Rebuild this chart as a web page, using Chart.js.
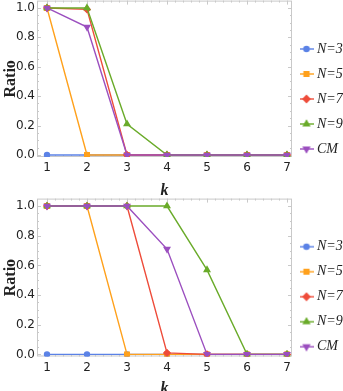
<!DOCTYPE html>
<html>
<head>
<meta charset="utf-8">
<script src="https://cdn.jsdelivr.net/npm/chart.js@4"></script>
<style>
  body { margin: 0; background: #fff; overflow: hidden; }
  .wrap { position: absolute; left: 0; width: 343px; }
</style>
</head>
<body>
<div class="wrap" style="top:-4px;height:200px"><canvas id="top"></canvas></div>
<div class="wrap" style="top:193.5px;height:199.5px"><canvas id="bottom"></canvas></div>
<script>
const kValues = [1, 2, 3, 4, 5, 6, 7];
const seriesNames = ['N=3', 'N=5', 'N=7', 'N=9', 'CM'];
const seriesColors = ['#5b82e6', '#ffa11c', '#ee4c3a', '#6aab2a', '#9b4fbf'];
const seriesMarkers = ['circle', 'rect', 'rectRot', 'triangle', 'triangle'];
const seriesRotation = [0, 0, 0, 0, 180];
const seriesOrder = [4, 3, 2, 1, 0];

// top panel
const topN3 = [0, 0, 0, 0, 0, 0, 0];
const topN5 = [1, 0, 0, 0, 0, 0, 0];
const topN7 = [1, 0.99, 0, 0, 0, 0, 0];
const topN9 = [1, 1, 0.21, 0, 0, 0, 0];
const topCM = [1, 0.87, 0, 0, 0, 0, 0];

// bottom panel
const botN3 = [0, 0, 0, 0, 0, 0, 0];
const botN5 = [1, 1, 0, 0, 0, 0, 0];
const botN7 = [1, 1, 1, 0.01, 0, 0, 0];
const botN9 = [1, 1, 1, 1, 0.57, 0, 0];
const botCM = [1, 1, 1, 0.71, 0, 0, 0];

const xTicks = [1, 2, 3, 4, 5, 6, 7];
const yTicks = [0, 0.2, 0.4, 0.6, 0.8, 1.0];

const frameColor = '#c9c9c9';

// light frame with inward ticks, like the original plot
const framePlugin = {
  id: 'frame',
  beforeDatasetsDraw(chart) {
    const { ctx, chartArea: a, scales: { x, y } } = chart;
    ctx.save();
    ctx.strokeStyle = frameColor;
    ctx.lineWidth = 1;
    ctx.strokeRect(a.left + 0.5, a.top + 0.5, a.right - a.left - 1, a.bottom - a.top - 1);
    ctx.beginPath();
    for (let v = 1; v <= 7.0001; v += 0.2) {
      const major = Math.abs(v - Math.round(v)) < 0.01;
      const len = major ? 4 : 2;
      const px = Math.round(x.getPixelForValue(v)) + 0.5;
      ctx.moveTo(px, a.bottom); ctx.lineTo(px, a.bottom - len);
      ctx.moveTo(px, a.top); ctx.lineTo(px, a.top + len);
    }
    for (let v = 0; v <= 1.0001; v += 0.05) {
      const major = Math.abs(v * 5 - Math.round(v * 5)) < 0.01;
      const len = major ? 4 : 2;
      const py = Math.round(y.getPixelForValue(v)) + 0.5;
      ctx.moveTo(a.left, py); ctx.lineTo(a.left + len, py);
      ctx.moveTo(a.right, py); ctx.lineTo(a.right - len, py);
    }
    ctx.stroke();
    ctx.restore();
  }
};

// legend swatch: short line with the marker on it
function legendSwatch(i) {
  const c = document.createElement('canvas');
  c.width = 14; c.height = 10;
  const g = c.getContext('2d');
  g.strokeStyle = seriesColors[i];
  g.fillStyle = seriesColors[i];
  g.lineWidth = 1.4;
  g.beginPath(); g.moveTo(0, 5); g.lineTo(14, 5); g.stroke();
  Chart.helpers.drawPoint(g, {
    pointStyle: seriesMarkers[i],
    rotation: seriesRotation[i],
    radius: seriesMarkers[i] === 'circle' ? 2.6 : 3.4,
    borderWidth: 1
  }, 7, 5);
  return c;
}

function makeDatasets(values) {
  return values.map((vals, i) => ({
    label: seriesNames[i],
    data: vals.map((v, j) => ({ x: kValues[j], y: v })),
    borderColor: seriesColors[i],
    backgroundColor: seriesColors[i],
    borderWidth: 1.4,
    pointStyle: seriesMarkers[i],
    rotation: seriesRotation[i],
    pointRadius: seriesMarkers[i] === 'circle' ? 2.5 : 3.2,
    pointHoverRadius: 3,
    order: seriesOrder[i],
    tension: 0
  }));
}

function makeChart(id, values, xHeight) {
  return new Chart(document.getElementById(id), {
    type: 'line',
    data: { datasets: makeDatasets(values) },
    plugins: [framePlugin],
    options: {
      responsive: true,
      maintainAspectRatio: false,
      animation: false,
      layout: { padding: 0 },
      plugins: {
        tooltip: { enabled: false },
        legend: {
          position: 'right',
          maxWidth: 51,
          title: { display: true, text: '', padding: 0, font: { size: 5 } },
          labels: {
            usePointStyle: true,
            pointStyleWidth: 7,
            boxHeight: 10,
            padding: 11,
            color: '#222',
            font: { family: "'Liberation Serif', serif", size: 14, style: 'italic' },
            generateLabels: chart => {
              const items = Chart.defaults.plugins.legend.labels.generateLabels(chart);
              items.sort((a, b) => a.datasetIndex - b.datasetIndex);
              items.forEach(it => {
                it.pointStyle = legendSwatch(it.datasetIndex);
                it.rotation = 0;
              });
              return items;
            }
          }
        }
      },
      scales: {
        x: {
          type: 'linear',
          min: 0.75,
          max: 7.125,
          afterFit: s => { s.height = xHeight; },
          afterBuildTicks: s => { s.ticks = xTicks.map(v => ({ value: v })); },
          grid: { display: false, drawTicks: false },
          border: { display: false },
          ticks: { padding: 4, color: '#222', font: { family: "'DejaVu Sans', sans-serif", size: 12 } },
          title: {
            display: true,
            text: 'k',
            color: '#222',
            padding: { top: 0, bottom: -3 },
            font: { family: "'Liberation Serif', serif", size: 16, weight: 'bold', style: 'italic', lineHeight: 1 }
          }
        },
        y: {
          min: -0.014,
          max: 1.05,
          afterFit: s => { s.width = 37; s.paddingTop = 0; s.paddingBottom = 0; },
          afterBuildTicks: s => { s.ticks = yTicks.map(v => ({ value: v })); },
          grid: { display: false, drawTicks: false },
          border: { display: false },
          ticks: {
            padding: 2,
            color: '#222',
            font: { family: "'DejaVu Sans', sans-serif", size: 12 },
            callback: v => v.toFixed(1)
          },
          title: {
            display: true,
            text: 'Ratio',
            color: '#222',
            padding: { top: 1, bottom: 0 },
            font: { family: "'Liberation Serif', serif", size: 16, weight: 'bold' }
          }
        }
      }
    }
  });
}

makeChart('top', [topN3, topN5, topN7, topN9, topCM], 39);
makeChart('bottom', [botN3, botN5, botN7, botN9, botCM], 37);
</script>
</body>
</html>
